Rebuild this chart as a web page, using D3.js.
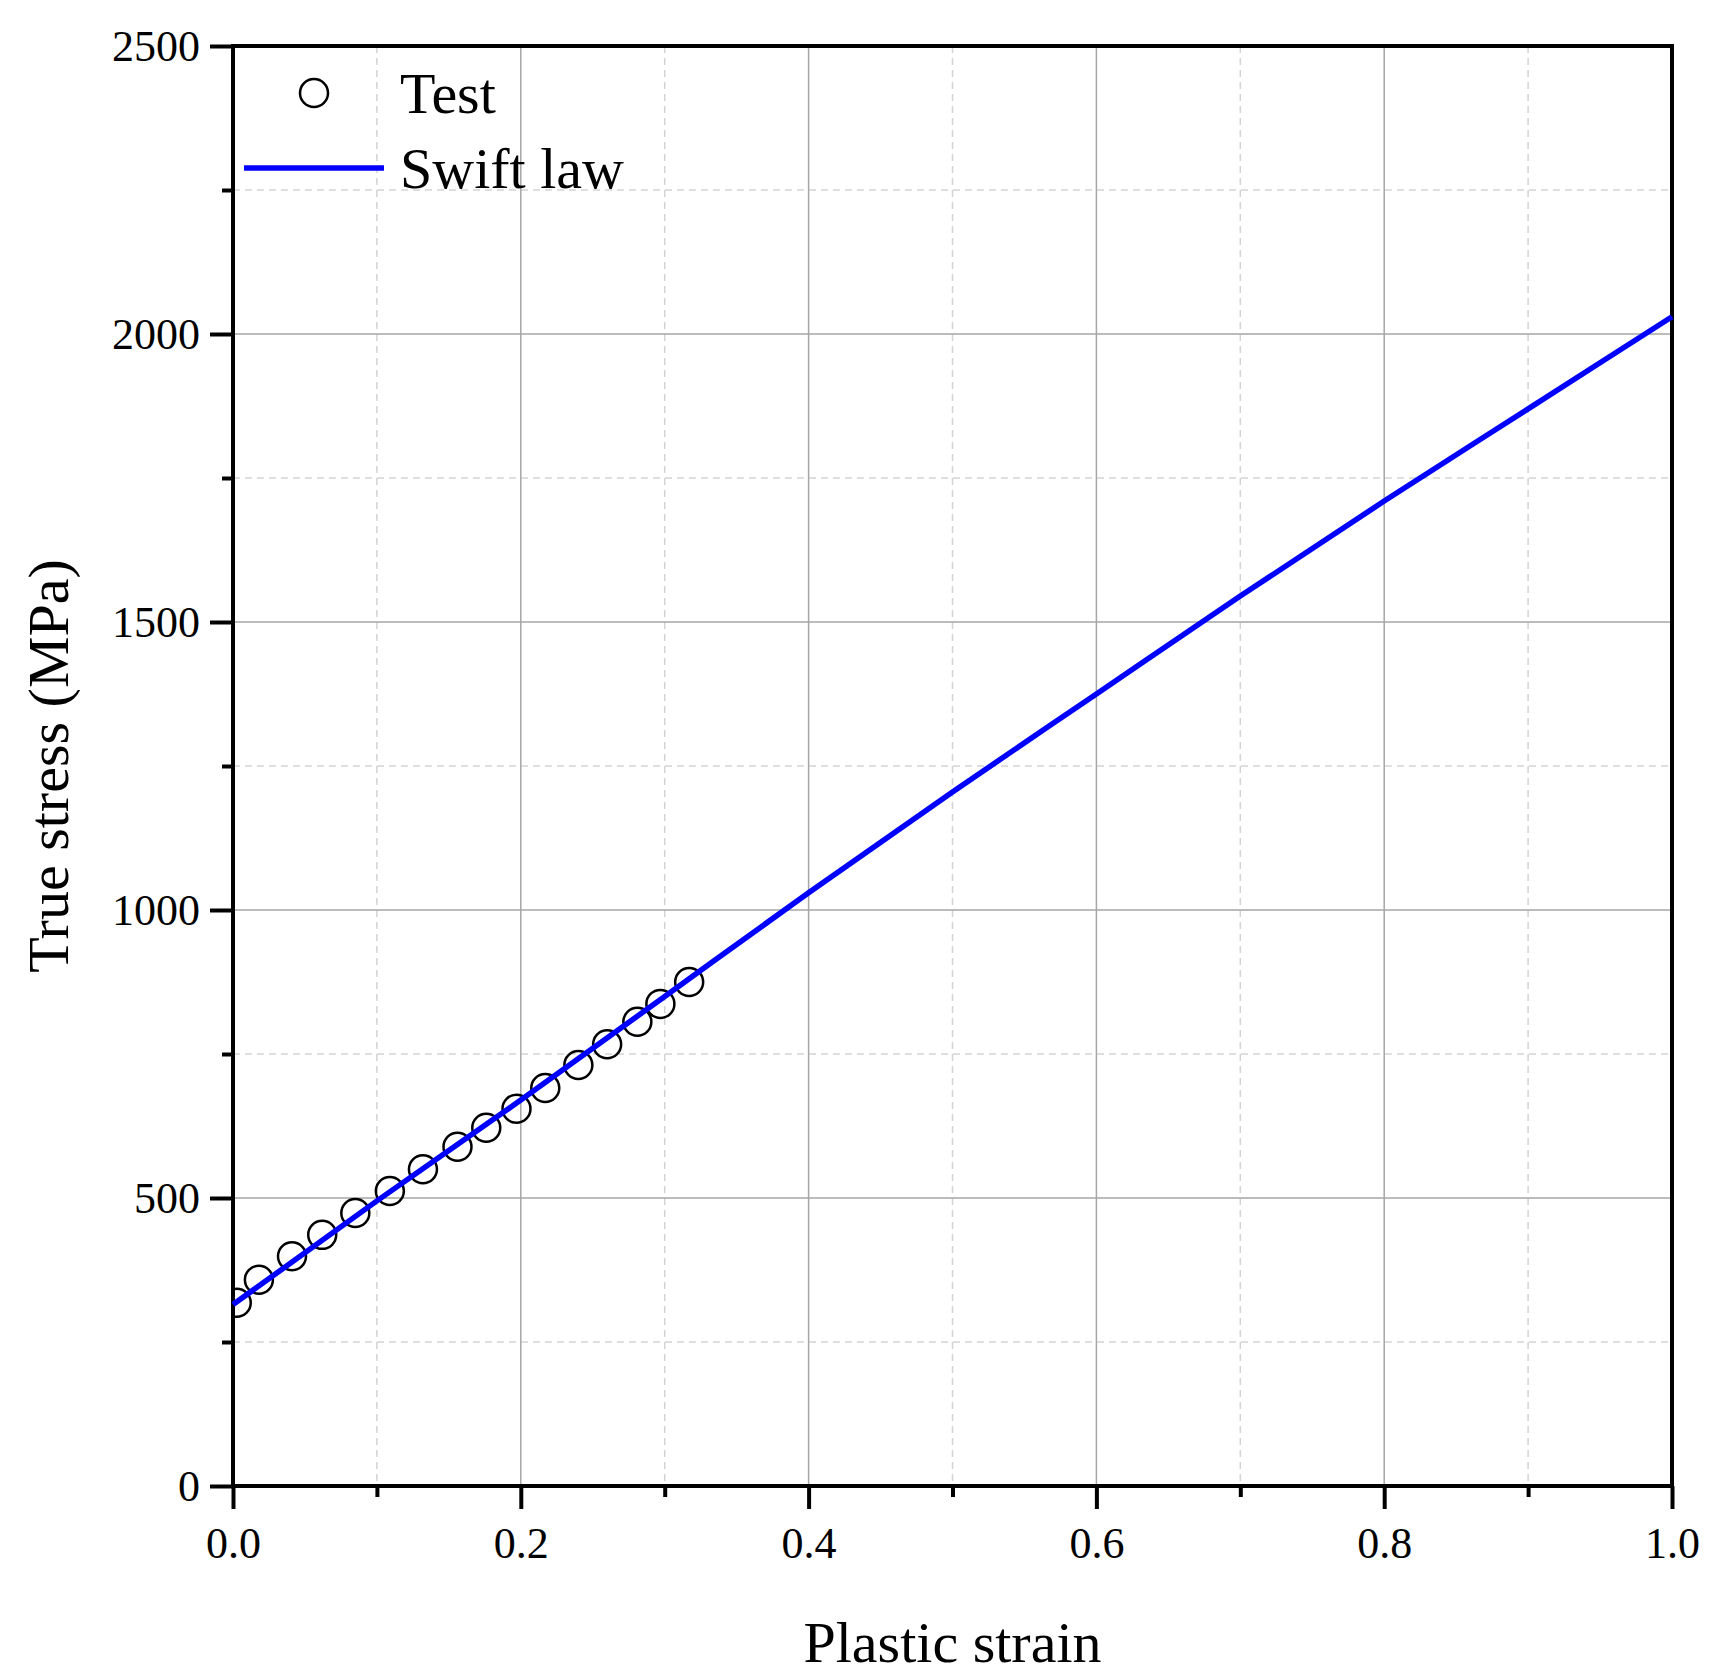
<!DOCTYPE html><html><head><meta charset="utf-8"><script src="https://cdn.jsdelivr.net/npm/d3@7"></script>
<style>body{margin:0;background:#fff}text{font-family:"Liberation Serif","Times New Roman",serif}</style></head><body><svg id="c" width="1720" height="1680"></svg>
<script>
const testStrain=[0.0026,0.018,0.041,0.062,0.085,0.109,0.132,0.156,0.176,0.197,0.217,0.240,0.260,0.281,0.297,0.317];
const testStress=[318,358,399,436,474,512,550,589,622,655,691,731,767,806,837,875];
const swiftStrain=[0,0.1,0.2,0.3,0.4,0.5,0.6,0.7,0.8,0.9,1.0];
const swiftStress=[315,495,670,850,1030,1205,1375,1545,1710,1870,2030];
const xTicks=[0,0.2,0.4,0.6,0.8,1.0];
const yTicks=[0,500,1000,1500,2000,2500];

const svg=d3.select("#c");
const L=233,R=1672,T=46,B=1486;
const x=d3.scaleLinear().domain([0,1]).range([L,R]);
const y=d3.scaleLinear().domain([0,2500]).range([B,T]);
const g=svg.append("g");
d3.range(0.1,1,0.2).forEach(v=>g.append("line").attr("x1",x(v)).attr("x2",x(v)).attr("y1",T).attr("y2",B).attr("stroke","#d3d3d3").attr("stroke-width",1.5).attr("stroke-dasharray","7,5"));
d3.range(250,2500,500).forEach(v=>g.append("line").attr("x1",L).attr("x2",R).attr("y1",y(v)).attr("y2",y(v)).attr("stroke","#d3d3d3").attr("stroke-width",1.5).attr("stroke-dasharray","7,5"));
xTicks.slice(1,-1).forEach(v=>g.append("line").attr("x1",x(v)).attr("x2",x(v)).attr("y1",T).attr("y2",B).attr("stroke","#a6a6a6").attr("stroke-width",1.5));
yTicks.slice(1,-1).forEach(v=>g.append("line").attr("x1",L).attr("x2",R).attr("y1",y(v)).attr("y2",y(v)).attr("stroke","#a6a6a6").attr("stroke-width",1.5));

const xa=svg.append("g").attr("transform",`translate(0,${B})`).call(d3.axisBottom(x).tickValues(xTicks).tickFormat(d3.format(".1f")).tickSize(23).tickPadding(18));
const ya=svg.append("g").attr("transform",`translate(${L},0)`).call(d3.axisLeft(y).tickValues(yTicks).tickFormat(d3.format("d")).tickSize(23).tickPadding(10));
[xa,ya].forEach(a=>{a.select(".domain").remove();a.selectAll("line").attr("stroke","#000").attr("stroke-width",4);a.selectAll("text").attr("font-size",44).attr("fill","#000").attr("font-family","Liberation Serif");});
xa.selectAll("text").attr("dy","0.71em");
svg.append("g").attr("transform",`translate(0,${B})`).call(d3.axisBottom(x).tickValues(d3.range(0.1,1,0.2)).tickFormat("").tickSize(11)).call(a=>{a.select(".domain").remove();a.selectAll("line").attr("stroke","#000").attr("stroke-width",4);});
svg.append("g").attr("transform",`translate(${L},0)`).call(d3.axisLeft(y).tickValues(d3.range(250,2500,500)).tickFormat("").tickSize(11)).call(a=>{a.select(".domain").remove();a.selectAll("line").attr("stroke","#000").attr("stroke-width",4);});
svg.append("rect").attr("x",L).attr("y",T).attr("width",R-L).attr("height",B-T).attr("fill","none").attr("stroke","#000").attr("stroke-width",4);

svg.append("clipPath").attr("id","cp").append("rect").attr("x",L).attr("y",T).attr("width",R-L).attr("height",B-T);
svg.append("g").attr("clip-path","url(#cp)").selectAll("circle").data(testStrain).enter().append("circle")
 .attr("cx",d=>x(d)).attr("cy",(d,i)=>y(testStress[i])).attr("r",14).attr("fill","none").attr("stroke","#000").attr("stroke-width",2.5);
const line=d3.line().x(d=>x(d[0])).y(d=>y(d[1])).curve(d3.curveMonotoneX);
svg.append("path").attr("d",line(swiftStrain.map((s,i)=>[s,swiftStress[i]]))).attr("fill","none").attr("stroke","#0000ff").attr("stroke-width",5.5);

svg.append("circle").attr("cx",314).attr("cy",93).attr("r",14).attr("fill","none").attr("stroke","#000").attr("stroke-width",2.5);
svg.append("text").attr("x",400).attr("y",113).attr("font-size",58).text("Test");
svg.append("line").attr("x1",244).attr("x2",384).attr("y1",168).attr("y2",168).attr("stroke","#0000ff").attr("stroke-width",5.5);
svg.append("text").attr("x",400).attr("y",188).attr("font-size",58).text("Swift law");

svg.append("text").attr("x",(L+R)/2).attr("y",1662).attr("text-anchor","middle").attr("font-size",58).text("Plastic strain");
svg.append("text").attr("transform","translate(68,766) rotate(-90)").attr("text-anchor","middle").attr("font-size",58).text("True stress (MPa)");
</script></body></html>
